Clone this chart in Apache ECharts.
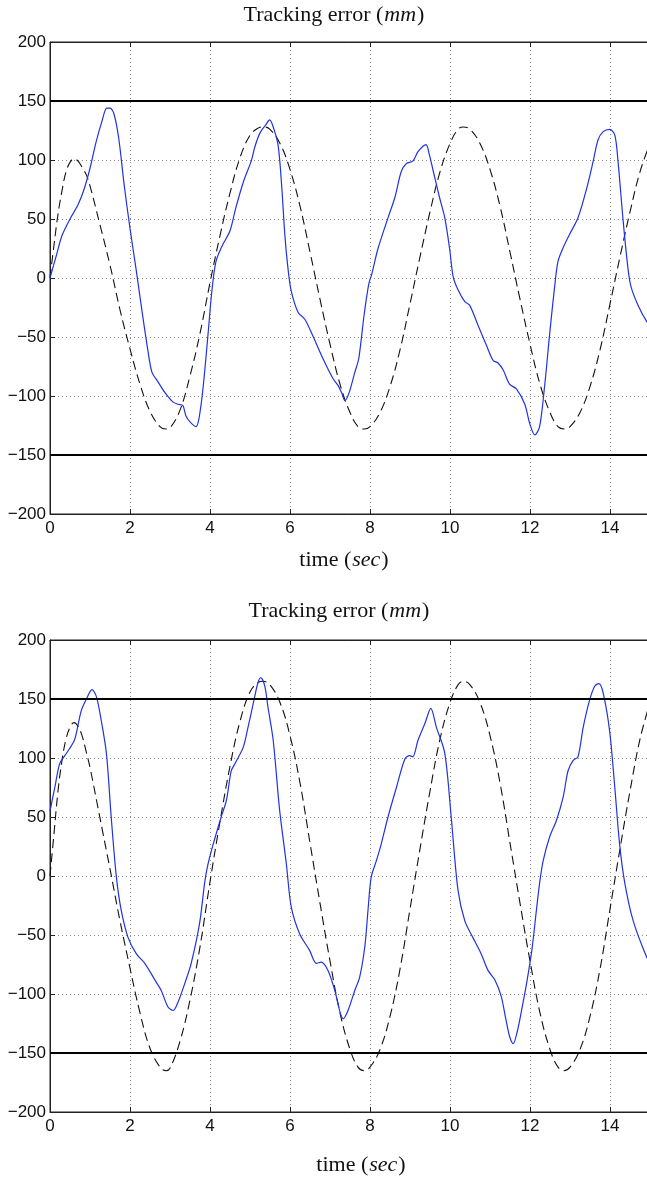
<!DOCTYPE html>
<html>
<head>
<meta charset="utf-8">
<script src="https://cdn.jsdelivr.net/npm/echarts@6/dist/echarts.min.js"></script>
<style>
html,body{margin:0;padding:0;background:#fff;}
#c{width:647px;height:1177px;}
</style>
</head>
<body>
<div id="c"></div>
<script>
// ---------- data ----------
const xTicks = [0, 2, 4, 6, 8, 10, 12, 14];
const yTicks = [-200, -150, -100, -50, 0, 50, 100, 150, 200];
const limits = [150, -150];

// top panel, measured response (blue)
const tTopBlue = [0,0.15,0.3,0.5,0.7,0.85,1.0,1.15,1.3,1.42,1.5,1.6,1.72,1.85,2.0,2.15,2.3,2.45,2.55,2.7,2.87,3.07,3.2,3.32,3.4,3.5,3.65,3.73,3.83,3.95,4.05,4.15,4.3,4.5,4.65,4.85,5.03,5.12,5.25,5.4,5.49,5.57,5.7,5.79,5.87,5.95,6.03,6.2,6.37,6.57,6.82,7.07,7.2,7.3,7.37,7.47,7.62,7.72,7.85,7.97,8.05,8.2,8.45,8.62,8.78,8.91,9.07,9.2,9.4,9.48,9.62,9.74,9.87,9.99,10.08,10.2,10.37,10.49,10.7,10.91,11.08,11.2,11.33,11.49,11.66,11.87,11.99,12.12,12.24,12.37,12.49,12.62,12.7,12.82,12.99,13.2,13.41,13.58,13.7,13.83,13.99,14.12,14.2,14.33,14.45,14.53,14.7,14.92,15];
const vTopBlue = [0,18,36,50,62,75,93,115,133,144,144,139,118,80,42,8,-28,-62,-80,-88,-97,-105,-107,-108,-117,-122,-126,-118,-92,-48,-10,14,27,40,60,83,99,111,123,130,134,129,113,79,37,8,-11,-29,-35,-49,-68,-85,-91,-98,-104,-98,-80,-68,-32,-5,4,25,51,68,90,97,99,107,113,105,85,68,51,25,1,-10,-20,-23,-40,-57,-70,-72,-78,-90,-94,-107,-123,-133,-126,-90,-48,-6,14,25,37,51,75,99,117,124,126,121,99,48,8,-8,-23,-37,-39];

// bottom panel, measured response (blue)
const tBotBlue = [0,0.12,0.24,0.37,0.49,0.62,0.78,0.91,1.05,1.16,1.28,1.41,1.53,1.66,1.78,1.95,2.16,2.37,2.62,2.78,2.95,3.08,3.2,3.37,3.53,3.74,3.87,3.95,4.08,4.28,4.41,4.53,4.62,4.83,4.95,5.08,5.2,5.27,5.37,5.45,5.58,5.74,5.91,6.03,6.24,6.49,6.66,6.78,6.95,7.12,7.33,7.45,7.62,7.74,7.87,7.95,8.03,8.16,8.28,8.45,8.66,8.87,8.99,9.07,9.2,9.37,9.52,9.66,9.87,10.03,10.2,10.37,10.57,10.78,10.95,11.12,11.28,11.4,11.49,11.58,11.68,11.8,11.92,12.05,12.15,12.24,12.33,12.49,12.66,12.83,12.95,13.08,13.2,13.33,13.49,13.62,13.72,13.83,13.99,14.12,14.24,14.37,14.58,14.92,15];
const vBotBlue = [55,75,95,102,108,116,140,150,158,152,132,104,50,-1,-29,-52,-66,-74,-88,-97,-111,-114,-107,-91,-74,-40,-5,10,27,50,64,89,95,109,126,146,164,168,161,143,115,56,10,-26,-49,-63,-74,-73,-80,-97,-121,-114,-97,-86,-60,-29,-1,13,27,50,75,99,102,101,115,129,142,126,104,50,-12,-38,-52,-66,-80,-88,-102,-122,-136,-142,-132,-112,-90,-62,-32,-6,13,33,47,67,89,98,101,126,149,161,163,155,123,75,27,-6,-38,-69,-72];

// reference (black dashed), both panels share sample times
const tDash = [0,0.1,0.2,0.3,0.4,0.5,0.6,0.7,0.8,0.9,1.0,1.25,1.5,1.75,2.0,2.25,2.5,2.75,2.9,3.0,3.25,3.5,3.75,4.0,4.25,4.5,4.75,5.0,5.2,5.33,5.5,5.75,6.0,6.25,6.5,6.75,7.0,7.25,7.5,7.7,7.85,8.0,8.25,8.5,8.75,9.0,9.25,9.5,9.75,10.0,10.2,10.33,10.5,10.75,11.0,11.25,11.5,11.75,12.0,12.25,12.5,12.7,12.85,13.0,13.25,13.5,13.75,14.0,14.25,14.5,14.75,15.0];
const vTopDash = [0,28,54,74,90,98,101,99,94,88,78,45,11,-27,-60,-90,-113,-126,-128,-127,-112,-83,-47,-4,36,72,102,121,127,128,126,114,92,61,22,-18,-56,-90,-114,-126,-128,-126,-114,-92,-61,-22,18,56,90,114,126,128,126,114,92,61,22,-18,-56,-90,-114,-126,-128,-126,-114,-92,-61,-22,18,56,90,114];
const vBotDash = [0,36,72,98,116,126,130,127,119,106,92,49,6,-38,-78,-116,-146,-162,-165,-163,-140,-105,-60,-5,46,93,131,156,164,165,162,147,119,79,28,-23,-72,-116,-147,-162,-165,-162,-147,-119,-79,-28,23,72,116,147,162,165,162,147,119,79,28,-23,-72,-116,-147,-162,-165,-162,-147,-119,-79,-28,23,72,116,147];

const titleText = ['Tracking error ', 'mm'];
const xLabelText = ['time ', 'sec'];

// ---------- build ----------
const zip = (t, v) => t.map((x, i) => [x, v[i]]);
const BLUE = '#1f33e0';
const AX = '#222';
const SERIF = "'Liberation Serif','Times New Roman',serif";
const SANS = "'Liberation Sans',Arial,Helvetica,sans-serif";

const grids = [
  {left: 50, top: 42, width: 600, height: 472},
  {left: 50, top: 640, width: 600, height: 472}
].map(g => Object.assign(g, {show: true, borderColor: AX, borderWidth: 1, backgroundColor: 'transparent', containLabel: false, outerBoundsMode: 'none'}));

function xAxisFor(gi, pos) {
  const bottom = pos === 'bottom';
  return {
    type: 'value', gridIndex: gi, position: pos, min: 0, max: 15, interval: 2,
    axisLine: {show: true, onZero: false, lineStyle: {color: AX, width: 1}},
    axisTick: {show: true, inside: true, length: 5, lineStyle: {color: AX}},
    axisLabel: {show: bottom, margin: 6, fontSize: 17, color: '#111', fontFamily: SANS, showMaxLabel: false,
      formatter: v => xTicks.includes(v) ? String(v) : ''},
    splitLine: {show: bottom, lineStyle: {color: '#8a8a8a', width: 1, type: [1, 3]}}
  };
}
function yAxisFor(gi) {
  return {
    type: 'value', gridIndex: gi, min: -200, max: 200, interval: 50,
    axisLine: {show: true, onZero: false, lineStyle: {color: AX, width: 1}},
    axisTick: {show: true, inside: true, length: 5, lineStyle: {color: AX}},
    axisLabel: {margin: 4, fontSize: 17, color: '#111', fontFamily: SANS,
      formatter: v => yTicks.includes(v) ? String(v).replace('-', '\u2212') : ''},
    splitLine: {show: true, lineStyle: {color: '#8a8a8a', width: 1, type: [1, 3]}}
  };
}

const rich = {
  a: {fontFamily: SERIF, fontSize: 22, fontWeight: 'normal', color: '#111', lineHeight: 26},
  p: {fontFamily: SERIF, fontSize: 22, fontWeight: 'normal', color: '#111', lineHeight: 26},
  i: {fontFamily: SERIF, fontSize: 22, fontWeight: 'normal', fontStyle: 'italic', color: '#111', lineHeight: 26, padding: [0, 1, 0, 1]}
};
function richLabel(parts, cx, top) {
  return {
    text: '{a|' + parts[0] + '}{p|(}{i|' + parts[1] + '}{p|)}',
    left: cx, top: top, textAlign: 'center', padding: 0,
    textStyle: {fontWeight: 'normal', fontFamily: SERIF, fontSize: 22, rich: rich}
  };
}

function dashSeries(gi, data) {
  return {
    type: 'line', xAxisIndex: gi * 2, yAxisIndex: gi, data: data, showSymbol: false, symbol: 'none',
    smooth: 0.4, silent: true, animation: false, z: 3,
    lineStyle: {color: '#111', width: 1.1, type: [9, 5]},
    markLine: {
      silent: true, symbol: ['none', 'none'], animation: false,
      label: {show: false},
      lineStyle: {color: '#000', width: 2.2, type: 'solid'},
      data: limits.map(v => ({yAxis: v}))
    }
  };
}
function blueSeries(gi, data) {
  return {
    type: 'line', xAxisIndex: gi * 2, yAxisIndex: gi, data: data, showSymbol: false, symbol: 'none',
    smooth: 0.3, silent: true, animation: false, z: 4,
    lineStyle: {color: BLUE, width: 1.2}
  };
}

const option = {
  animation: false,
  backgroundColor: '#fff',
  title: [
    richLabel(titleText, 334, 2),
    richLabel(xLabelText, 344, 547),
    richLabel(titleText, 339, 598),
    richLabel(xLabelText, 361, 1152)
  ],
  grid: grids,
  xAxis: [xAxisFor(0, 'bottom'), xAxisFor(0, 'top'), xAxisFor(1, 'bottom'), xAxisFor(1, 'top')],
  yAxis: [yAxisFor(0), yAxisFor(1)],
  series: [
    dashSeries(0, zip(tDash, vTopDash)),
    blueSeries(0, zip(tTopBlue, vTopBlue)),
    dashSeries(1, zip(tDash, vBotDash)),
    blueSeries(1, zip(tBotBlue, vBotBlue))
  ]
};
const chart = echarts.init(document.getElementById('c'), null, {renderer: 'canvas'});
chart.setOption(option);
</script>
</body>
</html>
